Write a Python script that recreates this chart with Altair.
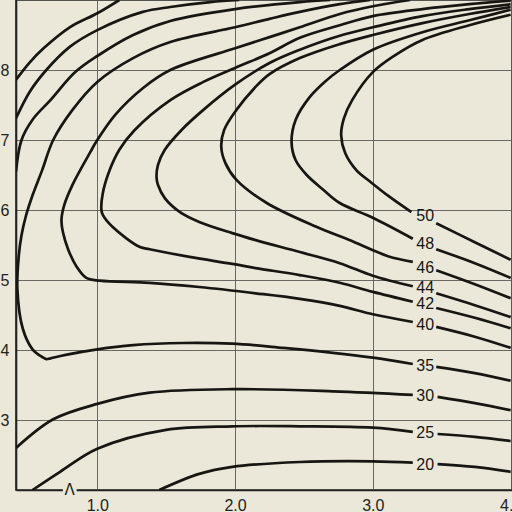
import altair as alt
import pandas as pd

BG = "#ebe8d9"
INK = "#171612"
GRID = "#5a5a55"

# ---- unlabeled upper-left contours ----
A_X = [0.41, 0.51, 0.61, 0.80, 1.00, 1.16]
A_Y = [7.86, 8.11, 8.31, 8.61, 8.81, 9.00]
B_X = [0.41, 0.51, 0.63, 0.80, 1.00, 1.33, 1.53, 1.82, 2.03]
B_Y = [7.31, 7.69, 8.00, 8.33, 8.57, 8.83, 8.90, 8.97, 9.00]
C_X = [0.41, 0.45, 0.53, 0.66, 0.84, 1.00, 1.26, 1.53, 2.00, 2.47, 2.69]
C_Y = [6.55, 7.00, 7.29, 7.57, 7.97, 8.20, 8.50, 8.70, 8.87, 8.97, 9.00]

# ---- labelled contours: left part (ends at label) and right part (after label) ----
C20_LX = [3.29, 3.00, 2.47, 1.98, 1.74, 1.45]
C20_LY = [2.39, 2.41, 2.40, 2.33, 2.23, 2.00]
C20_RX = [3.47, 3.74, 4.00]
C20_RY = [2.37, 2.33, 2.26]

C25_LX = [3.29, 3.00, 2.47, 1.98, 1.50, 1.00, 0.73, 0.53]
C25_LY = [2.83, 2.89, 2.91, 2.91, 2.86, 2.59, 2.26, 2.00]
C25_RX = [3.47, 3.74, 4.00]
C25_RY = [2.80, 2.76, 2.70]

C30_LX = [3.29, 2.71, 1.98, 1.38, 1.00, 0.68, 0.41]
C30_LY = [3.36, 3.41, 3.44, 3.39, 3.23, 3.01, 2.60]
C30_RX = [3.47, 3.74, 4.00]
C30_RY = [3.33, 3.24, 3.14]

C35_LX = [3.29, 3.00, 2.71, 2.35, 1.98, 1.62, 1.26, 1.00, 0.77, 0.66, 0.63, 0.60,
          0.53, 0.46, 0.42, 0.43, 0.45, 0.48, 0.53, 0.60, 0.68, 0.82, 1.00, 1.26,
          1.53, 2.00, 2.25, 2.47, 2.76, 2.98]
C35_LY = [3.80, 3.89, 3.96, 4.03, 4.09, 4.10, 4.07, 4.01, 3.93, 3.88, 3.87, 3.90,
          4.01, 4.30, 4.87, 5.34, 5.64, 5.90, 6.21, 6.57, 7.00, 7.43, 7.83, 8.17,
          8.40, 8.61, 8.73, 8.83, 8.94, 9.00]
C35_RX = [3.46, 3.74, 4.00]
C35_RY = [3.76, 3.67, 3.56]

C40_LX = [3.29, 3.00, 2.76, 2.47, 2.15, 1.74, 1.38, 1.02, 0.92, 0.85, 0.79, 0.75,
          0.74, 0.76, 0.82, 0.95, 1.00, 1.13, 1.33, 1.53, 2.00, 2.25, 2.47, 2.76,
          3.00, 3.27]
C40_LY = [4.40, 4.51, 4.63, 4.73, 4.81, 4.90, 4.96, 4.99, 5.03, 5.19, 5.43, 5.69,
          5.86, 6.07, 6.36, 6.83, 7.00, 7.36, 7.74, 8.00, 8.31, 8.47, 8.61, 8.80,
          8.91, 9.00]
C40_RX = [3.46, 3.74, 4.00]
C40_RY = [4.33, 4.19, 4.03]

C42_LX = [3.29, 3.00, 2.76, 2.47, 2.15, 1.98, 1.67, 1.38, 1.31, 1.11, 1.04, 1.03,
          1.04, 1.09, 1.16, 1.27, 1.53, 1.77, 2.00, 2.25, 2.47, 2.76, 3.00, 3.36,
          3.70, 4.00]
C42_LY = [4.69, 4.83, 4.96, 5.07, 5.17, 5.23, 5.33, 5.44, 5.47, 5.76, 5.93, 6.00,
          6.24, 6.57, 6.86, 7.14, 7.57, 7.83, 8.03, 8.24, 8.46, 8.64, 8.77, 8.87,
          8.94, 8.99]
C42_RX = [3.46, 3.74, 4.00]
C42_RY = [4.60, 4.46, 4.31]

C44_LX = [3.29, 3.00, 2.76, 2.47, 2.15, 1.98, 1.74, 1.60, 1.49, 1.44, 1.43, 1.44,
          1.49, 1.61, 1.77, 2.00, 2.25, 2.47, 2.76, 3.00, 3.36, 3.70, 4.00]
C44_LY = [4.91, 5.06, 5.24, 5.40, 5.57, 5.67, 5.83, 5.97, 6.17, 6.36, 6.47, 6.64,
          6.86, 7.14, 7.43, 7.79, 8.10, 8.29, 8.49, 8.61, 8.77, 8.87, 8.94]
C44_RX = [3.46, 3.74, 4.00]
C44_RY = [4.81, 4.64, 4.47]

C46_LX = [3.29, 3.11, 2.83, 2.59, 2.23, 2.01, 1.93, 1.90, 1.92, 2.01, 2.14, 2.25,
          2.47, 2.76, 3.00, 3.36, 3.70, 4.00]
C46_LY = [5.26, 5.34, 5.57, 5.76, 6.10, 6.43, 6.67, 6.90, 7.14, 7.43, 7.74, 7.94,
          8.17, 8.37, 8.50, 8.67, 8.80, 8.90]
C46_RX = [3.46, 3.74, 4.00]
C46_RY = [5.14, 4.94, 4.74]

C48_LX = [3.29, 3.00, 2.76, 2.64, 2.52, 2.44, 2.41, 2.44, 2.54, 2.65, 2.76, 3.00,
          3.36, 3.70, 4.00]
C48_LY = [5.59, 5.89, 6.10, 6.29, 6.50, 6.71, 6.97, 7.29, 7.61, 7.83, 8.00, 8.29,
          8.54, 8.71, 8.86]
C48_RX = [3.46, 3.74, 4.00]
C48_RY = [5.44, 5.24, 5.03]

C50_LX = [3.28, 3.12, 2.99, 2.88, 2.80, 2.77, 2.79, 2.85, 3.00, 3.16, 3.36, 3.70, 4.00]
C50_LY = [5.97, 6.19, 6.39, 6.57, 6.81, 7.07, 7.31, 7.57, 7.97, 8.21, 8.43, 8.64, 8.79]
C50_RX = [3.46, 3.74, 4.00]
C50_RY = [5.81, 5.54, 5.29]

LABEL_TEXT = ["50", "48", "46", "44", "42", "40", "35", "30", "25", "20"]
LABEL_Y = [5.91, 5.51, 5.17, 4.89, 4.66, 4.36, 3.77, 3.34, 2.81, 2.36]
LABEL_X = 3.38

X_TICKS = [1, 2, 3, 4]
Y_TICKS = [3, 4, 5, 6, 7, 8]

segments = [
    ("a", A_X, A_Y), ("b", B_X, B_Y), ("c", C_X, C_Y),
    ("20L", C20_LX, C20_LY), ("20R", C20_RX, C20_RY),
    ("25L", C25_LX, C25_LY), ("25R", C25_RX, C25_RY),
    ("30L", C30_LX, C30_LY), ("30R", C30_RX, C30_RY),
    ("35L", C35_LX, C35_LY), ("35R", C35_RX, C35_RY),
    ("40L", C40_LX, C40_LY), ("40R", C40_RX, C40_RY),
    ("42L", C42_LX, C42_LY), ("42R", C42_RX, C42_RY),
    ("44L", C44_LX, C44_LY), ("44R", C44_RX, C44_RY),
    ("46L", C46_LX, C46_LY), ("46R", C46_RX, C46_RY),
    ("48L", C48_LX, C48_LY), ("48R", C48_RX, C48_RY),
    ("50L", C50_LX, C50_LY), ("50R", C50_RX, C50_RY),
]
rows = []
for name, xs_, ys_ in segments:
    for i, (x, y) in enumerate(zip(xs_, ys_)):
        rows.append({"seg": name, "i": i, "x": x, "y": y})
df = pd.DataFrame(rows)

labels = pd.DataFrame({"t": LABEL_TEXT, "y": LABEL_Y, "x": [LABEL_X] * len(LABEL_TEXT)})

xs = alt.Scale(domain=[0.41, 4.01], nice=False, zero=False)
ys = alt.Scale(domain=[2, 9], nice=False, zero=False)

lines = alt.Chart(df).mark_line(
    color=INK, strokeWidth=2.7, interpolate="catmull-rom", clip=True
).encode(
    x=alt.X("x:Q", scale=xs, title=None,
            axis=alt.Axis(values=X_TICKS, format=".1f", grid=True, ticks=False,
                          labelPadding=7, labelFontSize=16, labelColor="#222",
                          labelFont="Liberation Sans", domainColor="#222",
                          domainWidth=1.6, gridColor=GRID, gridWidth=0.9,
                          labelFlush=False)),
    y=alt.Y("y:Q", scale=ys, title=None,
            axis=alt.Axis(values=Y_TICKS, format="d", grid=True, ticks=False,
                          labelPadding=7, labelFontSize=16, labelColor="#222",
                          labelFont="Liberation Sans", domainColor="#222",
                          domainWidth=1.6, gridColor=GRID, gridWidth=0.9,
                          labelFlush=False)),
    detail="seg:N",
    order="i:Q",
)

text = alt.Chart(labels).mark_text(
    fontSize=16, font="Liberation Sans", color=INK, baseline="middle", align="center"
).encode(x=alt.X("x:Q", scale=xs), y=alt.Y("y:Q", scale=ys), text="t:N")

lam_df = pd.DataFrame({"x": [0.80], "x1": [0.75], "x2": [0.85], "y": [2.0],
                       "y1": [1.96], "y2": [2.04], "t": ["Λ"]})
lam_bg = alt.Chart(lam_df).mark_rect(color=BG).encode(
    x=alt.X("x1:Q", scale=xs), x2="x2:Q", y=alt.Y("y1:Q", scale=ys), y2="y2:Q")
lam = alt.Chart(lam_df).mark_text(
    fontSize=15, font="DejaVu Sans", color=INK, baseline="middle", align="center"
).encode(x=alt.X("x:Q", scale=xs), y=alt.Y("y:Q", scale=ys), text="t:N")

chart = alt.layer(lines, text, lam_bg, lam).properties(
    width=496, height=490,
    autosize=alt.AutoSizeParams(type="none"),
    padding={"left": 16, "top": 0, "right": 0, "bottom": 22},
    background=BG,
).configure_view(stroke="#222", strokeWidth=1.6, fill=BG)

chart.save("out.html", embed_options={"renderer": "svg", "actions": False})
